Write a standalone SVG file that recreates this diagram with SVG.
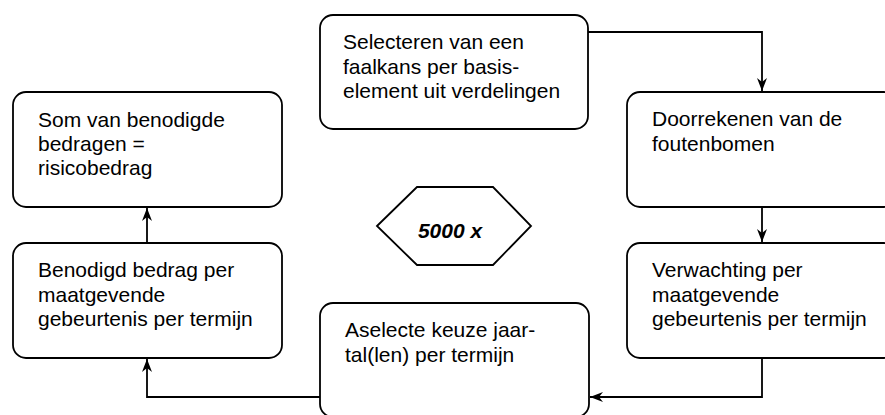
<svg xmlns="http://www.w3.org/2000/svg" width="885" height="415" viewBox="0 0 885 415">
<defs>
<marker id="arr" markerUnits="userSpaceOnUse" markerWidth="15" markerHeight="12" refX="13" refY="6" orient="auto">
<path d="M0,1 L13,6 L0,11 L4,6 z" fill="#000"/>
</marker>
<style>
.box{fill:#fff;stroke:#000;stroke-width:1.8}
.t{font-family:"Liberation Sans",Arial,sans-serif;font-size:21px;fill:#000}
.b{font-weight:bold;font-style:italic}
.c{fill:none;stroke:#000;stroke-width:1.8}
</style>
</defs>
<rect width="885" height="415" fill="#fff"/>
<g id="connectors">
<path class="c" d="M588,32 H762 V91" marker-end="url(#arr)"/>
<path class="c" d="M762,207 V242" marker-end="url(#arr)"/>
<path class="c" d="M762,358 V397 H590" marker-end="url(#arr)"/>
<path class="c" d="M320,397 H147 V359" marker-end="url(#arr)"/>
<path class="c" d="M147,243 V208" marker-end="url(#arr)"/>
</g>
<g id="n1">
<rect class="box" x="320" y="15" width="268" height="114" rx="13"/>
<text class="t" x="343" y="49">Selecteren van een</text>
<text class="t" x="343" y="73.5">faalkans per basis-</text>
<text class="t" x="343" y="98">element uit verdelingen</text>
</g>
<g id="n2">
<rect class="box" x="627" y="92" width="270" height="115" rx="13"/>
<text class="t" x="652" y="126">Doorrekenen van de</text>
<text class="t" x="652" y="151">foutenbomen</text>
</g>
<g id="n3">
<rect class="box" x="627" y="243" width="270" height="115" rx="13"/>
<text class="t" x="652" y="277">Verwachting per</text>
<text class="t" x="652" y="302">maatgevende</text>
<text class="t" x="652" y="326">gebeurtenis per termijn</text>
</g>
<g id="n4">
<rect class="box" x="320" y="303" width="269" height="114" rx="13"/>
<text class="t" x="345" y="337">Aselecte keuze jaar-</text>
<text class="t" x="345" y="362">tal(len) per termijn</text>
</g>
<g id="n5">
<rect class="box" x="13" y="243" width="269" height="115" rx="13"/>
<text class="t" x="38" y="277">Benodigd bedrag per</text>
<text class="t" x="38" y="302">maatgevende</text>
<text class="t" x="38" y="326">gebeurtenis per termijn</text>
</g>
<g id="n6">
<rect class="box" x="13" y="92" width="269" height="115" rx="13"/>
<text class="t" x="38" y="127">Som van benodigde</text>
<text class="t" x="38" y="151">bedragen =</text>
<text class="t" x="38" y="175">risicobedrag</text>
</g>
<g id="n7">
<polygon class="box" points="377,226 417,187 493,187 531,226 493,265 417,265"/>
<text class="t b" x="450" y="238" text-anchor="middle">5000 x</text>
</g>
</svg>
